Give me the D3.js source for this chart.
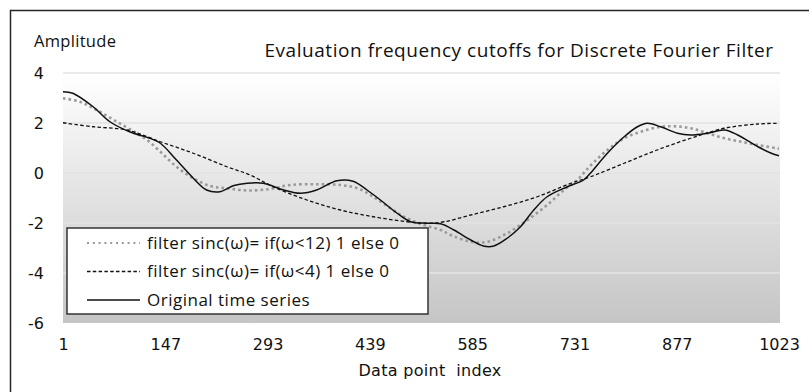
<!DOCTYPE html>
<html>
<head>
<meta charset="utf-8">
<style>
  body {
    margin: 0;
    background: #fff;
    font-family: "Open Sans", sans-serif;
  }
  svg {
    display: block;
  }
</style>
<script src="https://cdnjs.cloudflare.com/ajax/libs/d3/7.8.5/d3.min.js"></script>
</head>
<body>
<svg id="chart"></svg>
<script>
// values (data point index, amplitude)
let origIdx = [1, 15, 44, 68, 96, 125, 140, 163, 187, 206, 225, 245, 264, 287, 316, 340, 363, 392, 415, 435, 454, 478, 497, 521, 540, 559, 583, 601, 616, 635, 654, 673, 692, 721, 744, 754, 778, 802, 821, 835, 854, 878, 897, 921, 945, 964, 993, 1012, 1023];
let origVal = [3.25, 3.19, 2.65, 2.05, 1.65, 1.39, 1.19, 0.52, -0.21, -0.68, -0.75, -0.5, -0.41, -0.41, -0.68, -0.81, -0.68, -0.31, -0.33, -0.68, -1.08, -1.61, -1.95, -2.01, -2.03, -2.28, -2.68, -2.92, -2.92, -2.61, -2.15, -1.48, -0.95, -0.55, -0.28, 0.0, 0.79, 1.45, 1.85, 1.99, 1.85, 1.59, 1.52, 1.59, 1.72, 1.52, 1.05, 0.79, 0.69];

let cut12Idx = [1, 25, 49, 78, 106, 121, 140, 163, 187, 211, 235, 264, 297, 325, 364, 397, 421, 444, 468, 492, 516, 540, 556, 583, 607, 635, 664, 692, 716, 735, 754, 778, 802, 826, 850, 873, 897, 921, 945, 969, 993, 1023];
let cut12Val = [2.99, 2.85, 2.52, 2.05, 1.59, 1.32, 0.85, 0.25, -0.21, -0.52, -0.61, -0.7, -0.64, -0.48, -0.45, -0.48, -0.61, -0.95, -1.41, -1.81, -2.08, -2.28, -2.5, -2.75, -2.75, -2.41, -1.88, -1.28, -0.68, -0.28, 0.3, 0.92, 1.39, 1.65, 1.83, 1.87, 1.79, 1.59, 1.39, 1.25, 1.12, 0.97];

let cut4Idx = [1, 44, 92, 140, 187, 235, 268, 301, 349, 397, 444, 492, 521, 545, 583, 630, 678, 726, 754, 802, 849, 897, 945, 993, 1023];
let cut4Val = [2.01, 1.85, 1.72, 1.25, 0.79, 0.25, -0.08, -0.55, -1.08, -1.48, -1.75, -1.95, -2.01, -1.95, -1.68, -1.35, -0.95, -0.41, -0.15, 0.39, 0.92, 1.39, 1.79, 1.96, 1.99];

let xTicks = [1, 147, 293, 439, 585, 731, 877, 1023];
let yTicks = [-6, -4, -2, 0, 2, 4];
let seriesNames = ["filter sinc(\u03c9)= if(\u03c9<12) 1 else 0", "filter sinc(\u03c9)= if(\u03c9<4) 1 else 0", "Original time series"];

let axisFont = "'DejaVu Sans', Verdana, sans-serif";

function getConfig() {
  let width = 809;
  let height = 392;
  let svg = d3.select("#chart")
    .attr("width", width)
    .attr("height", height);
  let plot = {left: 63, right: 780, top: 73, bottom: 323};
  return {width, height, svg, plot};
}

function zipSeries(idx, val) {
  return idx.map((d, i) => ({x: d, y: val[i]}));
}

function drawChart() {
  let {svg, plot} = getConfig();

  let x = d3.scaleLinear().domain([1, 1023]).range([plot.left, plot.right - 1]);
  let y = d3.scaleLinear().domain([-6, 4]).range([plot.bottom, plot.top]);

  // outer chart frame (runs off the right and bottom of the picture)
  svg.append("rect")
    .attr("x", 10.5).attr("y", 10.5)
    .attr("width", 830).attr("height", 420)
    .attr("fill", "none")
    .attr("stroke", "#262626")
    .attr("stroke-width", 1.5);

  // plot area gradient
  let grad = svg.append("defs").append("linearGradient")
    .attr("id", "bg")
    .attr("x1", 0).attr("y1", 0).attr("x2", 0).attr("y2", 1);
  grad.append("stop").attr("offset", "0%").attr("stop-color", "#ffffff");
  grad.append("stop").attr("offset", "100%").attr("stop-color", "#c5c5c5");

  svg.append("rect")
    .attr("x", plot.left).attr("y", plot.top)
    .attr("width", plot.right - plot.left)
    .attr("height", plot.bottom - plot.top)
    .attr("fill", "url(#bg)");

  // grid lines
  svg.append("g")
    .selectAll("line")
    .data(yTicks.slice(1))
    .enter()
    .append("line")
    .attr("x1", plot.left).attr("x2", plot.right)
    .attr("y1", d => y(d)).attr("y2", d => y(d))
    .attr("stroke", "#e3e3e3")
    .attr("stroke-width", 1.5);

  // y axis labels (plain hyphen for negatives, like the original)
  let yAxis = d3.axisLeft(y).tickValues(yTicks).tickSize(0).tickPadding(0).tickFormat(d => String(d));
  let gy = svg.append("g")
    .attr("transform", "translate(44,0)")
    .call(yAxis);
  gy.select(".domain").remove();
  gy.selectAll("text")
    .attr("font-family", axisFont)
    .attr("font-size", 16)
    .attr("fill", "#111");

  // x axis labels
  let xAxis = d3.axisBottom(x).tickValues(xTicks).tickSize(0).tickPadding(0).tickFormat(d => String(d));
  let gx = svg.append("g")
    .attr("transform", "translate(0,339)")
    .call(xAxis);
  gx.select(".domain").remove();
  gx.selectAll("text")
    .attr("font-family", axisFont)
    .attr("font-size", 16)
    .attr("fill", "#111");

  // titles
  svg.append("text")
    .attr("x", 34).attr("y", 47)
    .attr("font-size", 16.5)
    .attr("letter-spacing", 0.3)
    .attr("fill", "#111")
    .text("Amplitude");

  svg.append("text")
    .attr("x", 519).attr("y", 57)
    .attr("text-anchor", "middle")
    .attr("font-size", 19)
    .attr("letter-spacing", 0.55)
    .attr("fill", "#111")
    .text("Evaluation frequency cutoffs for Discrete Fourier Filter");

  svg.append("text")
    .attr("x", 430).attr("y", 376)
    .attr("text-anchor", "middle")
    .attr("font-family", axisFont)
    .attr("font-size", 16)
    .attr("letter-spacing", 0.3)
    .attr("fill", "#111")
    .attr("xml:space", "preserve")
    .text("Data point  index");

  // series
  let line = d3.line()
    .x(d => x(d.x))
    .y(d => y(d.y))
    .curve(d3.curveCatmullRom.alpha(0.5));

  let styles = [
    {stroke: "#9a9a9a", width: 2.6, dash: "2.6,3"},
    {stroke: "#111", width: 1.3, dash: "3.5,2.3"},
    {stroke: "#111", width: 1.5, dash: null}
  ];
  let series = [zipSeries(cut12Idx, cut12Val), zipSeries(cut4Idx, cut4Val), zipSeries(origIdx, origVal)];

  svg.append("g")
    .selectAll("path")
    .data(series)
    .enter()
    .append("path")
    .attr("d", line)
    .attr("fill", "none")
    .attr("stroke", (d, i) => styles[i].stroke)
    .attr("stroke-width", (d, i) => styles[i].width)
    .attr("stroke-dasharray", (d, i) => styles[i].dash);

  // legend
  let lg = svg.append("g");
  lg.append("rect")
    .attr("x", 67).attr("y", 228)
    .attr("width", 361).attr("height", 86)
    .attr("fill", "#fff")
    .attr("stroke", "#333")
    .attr("stroke-width", 1.5);

  let rows = lg.selectAll(".legend")
    .data(seriesNames)
    .enter()
    .append("g")
    .attr("class", "legend")
    .attr("transform", (d, i) => "translate(0," + (243 + i * 28.5) + ")");

  rows.append("line")
    .attr("x1", 87).attr("x2", 140)
    .attr("y1", 0).attr("y2", 0)
    .attr("stroke", (d, i) => styles[i].stroke)
    .attr("stroke-width", (d, i) => i == 0 ? 2 : styles[i].width)
    .attr("stroke-dasharray", (d, i) => i == 0 ? "2,3.8" : styles[i].dash);

  rows.append("text")
    .attr("x", 147).attr("y", 5.5)
    .attr("font-size", 17)
    .attr("letter-spacing", 0.5)
    .attr("fill", "#111")
    .text(d => d);
}

drawChart();
</script>
</body>
</html>
